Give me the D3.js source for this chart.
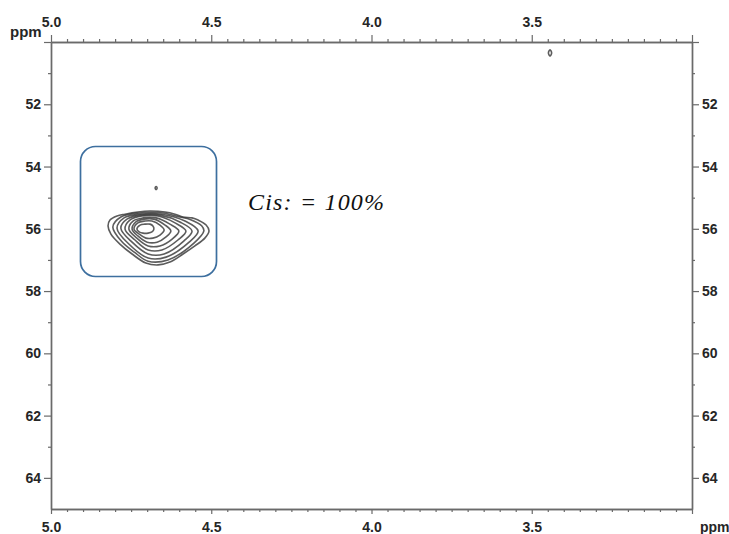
<!DOCTYPE html>
<html><head><meta charset="utf-8">
<script src="https://cdn.jsdelivr.net/npm/d3@7"></script>
<style>body{margin:0;background:#fff} svg{display:block}</style>
</head><body>
<svg id="c" width="729" height="534"></svg>
<script>
// ---- data ----
const xMajorTicks = [5.0, 4.5, 4.0, 3.5, 3.0];
const xMajorLabels = ["5.0", "4.5", "4.0", "3.5", ""];
const yMajorTicks = [50, 52, 54, 56, 58, 60, 62, 64];
const yMajorLabels = ["", "52", "54", "56", "58", "60", "62", "64"];
const unitLabel = "ppm";
const annotation = "Cis: = 100%";

// contour levels of the main cross-peak, [1H ppm, 13C ppm], outermost first
const contour1 = [[4.822,55.91],[4.816,55.72],[4.794,55.59],[4.769,55.53],[4.729,55.46],[4.691,55.43],[4.644,55.46],[4.613,55.53],[4.588,55.62],[4.560,55.65],[4.541,55.72],[4.516,55.88],[4.507,56.07],[4.520,56.30],[4.551,56.55],[4.588,56.81],[4.629,57.07],[4.666,57.16],[4.704,57.10],[4.747,56.81],[4.785,56.49],[4.813,56.17]];
const contour2 = [[4.807,55.94],[4.782,55.62],[4.725,55.49],[4.651,55.49],[4.598,55.62],[4.566,55.70],[4.530,55.90],[4.523,56.07],[4.554,56.46],[4.635,57.00],[4.697,57.04],[4.740,56.75],[4.780,56.40]];
const contour3 = [[4.794,55.98],[4.772,55.65],[4.722,55.53],[4.654,55.53],[4.582,55.75],[4.541,56.07],[4.569,56.43],[4.641,56.91],[4.697,56.94],[4.757,56.49]];
const contour4 = [[4.782,55.98],[4.763,55.69],[4.719,55.56],[4.660,55.56],[4.598,55.78],[4.560,56.07],[4.585,56.39],[4.647,56.81],[4.697,56.81],[4.747,56.43]];
const contour5 = [[4.769,56.01],[4.754,55.72],[4.716,55.59],[4.666,55.59],[4.613,55.81],[4.579,56.07],[4.604,56.36],[4.654,56.68],[4.697,56.68],[4.738,56.36]];
const contour6 = [[4.757,56.01],[4.744,55.75],[4.713,55.65],[4.672,55.65],[4.629,55.85],[4.601,56.07],[4.622,56.33],[4.660,56.55],[4.697,56.55],[4.732,56.30]];
const contour7 = [[4.747,56.01],[4.735,55.78],[4.710,55.69],[4.679,55.69],[4.644,55.88],[4.626,56.07],[4.641,56.26],[4.669,56.43],[4.700,56.43],[4.729,56.23]];
const contour8 = [[4.741,56.01],[4.729,55.81],[4.707,55.75],[4.685,55.75],[4.660,55.88],[4.647,56.04],[4.660,56.20],[4.682,56.30],[4.704,56.30],[4.725,56.17]];
const contour9 = [[4.732,56.01],[4.722,55.88],[4.707,55.85],[4.691,55.85],[4.682,55.91],[4.679,56.01],[4.685,56.10],[4.697,56.14],[4.713,56.14],[4.725,56.10]];
// small isolated peaks
const peakA = [[4.675,54.69],[4.672,54.64],[4.669,54.69],[4.672,54.74]];
const peakB = [[3.448,50.35],[3.443,50.25],[3.438,50.35],[3.443,50.45]];

const contours = [contour1, contour2, contour3, contour4, contour5, contour6, contour7, contour8, contour9, peakA, peakB];

// ---- chart ----
const svg = d3.select("#c");
const x = d3.scaleLinear().domain([5.0, 3.0]).range([51, 692]);
const y = d3.scaleLinear().domain([50, 65]).range([42, 509]);

const axisColor = "#6a6a6a";
const textColor = "#262626";
const font = "'Liberation Sans', Arial, sans-serif";

const xMinor = d3.range(0, 41).map(i => +(5.0 - i * 0.05).toFixed(2)).filter(v => !xMajorTicks.some(t => Math.abs(t - v) < 1e-6));
const yMinor = d3.range(51, 64, 2);

function styleAxis(g) {
  g.select(".domain").attr("stroke", axisColor).attr("stroke-width", 1.4);
  g.selectAll(".tick line").attr("stroke", axisColor).attr("stroke-width", 1.2);
  g.selectAll(".tick text").attr("fill", textColor).attr("font-family", font)
    .attr("font-size", 14).attr("font-weight", "bold");
}

// top
svg.append("g").attr("transform", `translate(0,${y(50)})`)
  .call(d3.axisTop(x).tickValues(xMinor).tickSize(3).tickSizeOuter(0).tickFormat(""))
  .call(styleAxis);
svg.append("g").attr("transform", `translate(0,${y(50)})`)
  .call(d3.axisTop(x).tickValues(xMajorTicks).tickSize(7).tickSizeOuter(0).tickPadding(8)
    .tickFormat((d, i) => xMajorLabels[i]))
  .call(styleAxis);
// bottom
svg.append("g").attr("transform", `translate(0,${y(65)})`)
  .call(d3.axisBottom(x).tickValues(xMinor).tickSize(3).tickSizeOuter(0).tickFormat(""))
  .call(styleAxis);
svg.append("g").attr("transform", `translate(0,${y(65)})`)
  .call(d3.axisBottom(x).tickValues(xMajorTicks).tickSize(5).tickSizeOuter(0).tickPadding(8)
    .tickFormat((d, i) => xMajorLabels[i]))
  .call(styleAxis);
// left
svg.append("g").attr("transform", `translate(${x(5.0)},0)`)
  .call(d3.axisLeft(y).tickValues(yMinor).tickSize(3).tickSizeOuter(0).tickFormat(""))
  .call(styleAxis);
svg.append("g").attr("transform", `translate(${x(5.0)},0)`)
  .call(d3.axisLeft(y).tickValues(yMajorTicks).tickSize(7).tickSizeOuter(0).tickPadding(3)
    .tickFormat((d, i) => yMajorLabels[i]))
  .call(styleAxis);
// right
svg.append("g").attr("transform", `translate(${x(3.0)},0)`)
  .call(d3.axisRight(y).tickValues(yMinor).tickSize(3).tickSizeOuter(0).tickFormat(""))
  .call(styleAxis);
svg.append("g").attr("transform", `translate(${x(3.0)},0)`)
  .call(d3.axisRight(y).tickValues(yMajorTicks).tickSize(7).tickSizeOuter(0).tickPadding(3)
    .tickFormat((d, i) => yMajorLabels[i]))
  .call(styleAxis);

// unit labels
svg.append("text").attr("x", 10).attr("y", 37).text(unitLabel)
  .attr("font-family", font).attr("font-size", 15).attr("font-weight", "bold").attr("fill", textColor);
svg.append("text").attr("x", 700).attr("y", 532).text(unitLabel)
  .attr("font-family", font).attr("font-size", 14).attr("font-weight", "bold").attr("fill", textColor);

// contours
const line = d3.line().x(d => x(d[0])).y(d => y(d[1])).curve(d3.curveCatmullRomClosed.alpha(0.5));
svg.append("g").selectAll("path").data(contours).join("path")
  .attr("d", line).attr("fill", "none").attr("stroke", "#333")
  .attr("stroke-width", 1.6).attr("stroke-opacity", 0.8);

// highlight box around the peak
svg.append("rect").attr("x", 80.5).attr("y", 146.5).attr("width", 136).attr("height", 130)
  .attr("rx", 15).attr("fill", "none").attr("stroke", "#3d6f9f").attr("stroke-width", 1.7);

// annotation
svg.append("text").attr("x", 248).attr("y", 210).text(annotation)
  .attr("textLength", 136).attr("lengthAdjust", "spacing")
  .attr("font-family", "'Liberation Serif', 'Times New Roman', serif").attr("font-style", "italic")
  .attr("font-size", 24).attr("fill", "#111");
</script>
</body></html>
